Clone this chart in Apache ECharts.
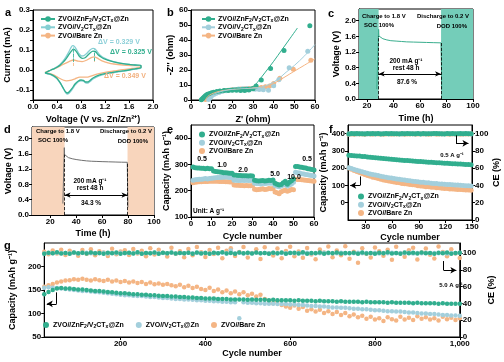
<!DOCTYPE html>
<html><head><meta charset="utf-8">
<script src="https://cdn.jsdelivr.net/npm/echarts@6/dist/echarts.min.js"></script>
<style>html,body{margin:0;padding:0;background:#fff}#c{width:504px;height:362px}</style>
</head><body><div id="c"></div>
<script>
// ---------- DATA ----------
// (a) CV loops [voltage, current]
const A_ZNF = [[0.2,-0.014],[0.25,-0.007],[0.3,0.0],[0.35,0.006],[0.4,0.014],[0.45,0.024],[0.5,0.038],[0.55,0.056],[0.6,0.078],[0.64,0.094],[0.67,0.104],[0.7,0.1],[0.74,0.084],[0.78,0.066],[0.82,0.058],[0.86,0.06],[0.9,0.07],[0.95,0.085],[1.0,0.094],[1.04,0.092],[1.08,0.078],[1.14,0.064],[1.2,0.054],[1.3,0.044],[1.4,0.037],[1.5,0.032],[1.6,0.028],[1.7,0.025],[1.8,0.022],
  [1.8,0.012],[1.7,0.006],[1.6,0.0],[1.5,-0.004],[1.4,-0.008],[1.3,-0.013],[1.2,-0.018],[1.1,-0.026],[1.0,-0.04],[0.95,-0.052],[0.91,-0.06],[0.88,-0.06],[0.84,-0.052],[0.8,-0.05],[0.75,-0.056],[0.7,-0.07],[0.65,-0.092],[0.6,-0.11],[0.57,-0.115],[0.54,-0.108],[0.5,-0.088],[0.45,-0.062],[0.4,-0.042],[0.35,-0.03],[0.3,-0.022],[0.25,-0.018],[0.2,-0.014]];
const A_V = [[0.2,-0.016],[0.25,-0.008],[0.3,0.0],[0.35,0.007],[0.4,0.016],[0.45,0.028],[0.5,0.044],[0.55,0.066],[0.6,0.092],[0.63,0.11],[0.66,0.122],[0.69,0.118],[0.73,0.1],[0.77,0.08],[0.81,0.07],[0.85,0.072],[0.9,0.084],[0.95,0.1],[1.0,0.108],[1.03,0.106],[1.07,0.092],[1.12,0.074],[1.2,0.058],[1.3,0.046],[1.4,0.038],[1.5,0.032],[1.6,0.028],[1.7,0.025],[1.8,0.022],
  [1.8,0.01],[1.7,0.004],[1.6,-0.001],[1.5,-0.006],[1.4,-0.01],[1.3,-0.015],[1.2,-0.021],[1.1,-0.03],[1.0,-0.045],[0.95,-0.058],[0.91,-0.066],[0.88,-0.065],[0.84,-0.056],[0.8,-0.054],[0.75,-0.06],[0.7,-0.076],[0.65,-0.098],[0.6,-0.116],[0.57,-0.12],[0.54,-0.112],[0.5,-0.09],[0.45,-0.064],[0.4,-0.044],[0.35,-0.032],[0.3,-0.024],[0.25,-0.02],[0.2,-0.016]];
const A_BARE = [[0.2,-0.012],[0.3,0.0],[0.4,0.012],[0.5,0.028],[0.6,0.042],[0.68,0.05],[0.75,0.044],[0.82,0.042],[0.9,0.05],[0.97,0.062],[1.02,0.066],[1.08,0.058],[1.15,0.046],[1.25,0.036],[1.35,0.03],[1.5,0.025],[1.65,0.022],[1.8,0.02],
  [1.8,0.014],[1.65,0.008],[1.5,0.002],[1.35,-0.005],[1.2,-0.012],[1.05,-0.022],[0.95,-0.032],[0.9,-0.036],[0.85,-0.036],[0.78,-0.036],[0.7,-0.044],[0.62,-0.052],[0.56,-0.054],[0.5,-0.05],[0.42,-0.038],[0.35,-0.026],[0.28,-0.018],[0.2,-0.012]];
const A_PEAKS_V = [0.67, 1.02];

// (b) Nyquist points and fits [Z', -Z'']
const B_ZNF_PTS = [[5,0.2],[5.5,0.8],[6,1.5],[6.5,2.2],[7,2.8],[7.5,3.3],[8,3.8],[9,4.3],[10,4.8],[11,5.2],[12.5,5.6],[14,6],[16,6.3],[18,6.4],[20,6.5],[22,6.5],[24,6.4],[26,6.4],[28,6.6],[30,7.5],[31.5,9.3],[34,13.3],[38.5,21],[45,33],[57.5,49.5]];
const B_ZNF_FIT = [[5,0],[6,1.8],[7,3],[8,3.9],[10,5.2],[12,6.1],[15,7],[18,7.6],[21,7.9],[24,8.1],[27,8.3],[29.5,8.7],[31,10],[33,13.3],[36,18.6],[40,25.8],[44,33.5],[48,41.2],[51.5,48]];
const B_V_PTS = [[8.5,0.3],[9,1.2],[9.5,2],[10,2.8],[11,3.6],[12,4.3],[13.5,5],[15,5.6],[17,6.2],[19,6.7],[21,7],[23,7.3],[25,7.5],[27,7.6],[29,7.4],[31,7.2],[33,7],[35,6.8],[37.5,6.5],[40,9.5],[42.5,13.5],[47.5,21.5],[56.5,32.5]];
const B_V_FIT = [[8.5,0],[9.5,2.2],[11,3.8],[13,5],[16,6.2],[20,7.1],[24,7.6],[28,7.9],[31,8],[34,8.6],[38,10.5],[42,13.8],[46,18.5],[50,23],[55,29.5],[60,37]];
const B_BARE_PTS = [[7,0.3],[7.5,1.2],[8,2],[9,3],[10,3.8],[11,4.5],[12.5,5.1],[14,5.6],[16,6.1],[18,6.5],[20,6.8],[22,7],[24,7.3],[26,7.5],[28,7.7],[30,7.8],[32,8],[34,8.3],[36,8.8],[38,9.4],[40,11],[43,14.5],[49.5,20.5],[58,26.5]];
const B_BARE_FIT = [[7,0],[8,2.2],[10,4],[13,5.6],[17,6.7],[22,7.4],[27,7.8],[32,8.3],[36,9.2],[40,11],[45,15],[50,19.2],[55,23.3],[60,27.5]];

// (c),(d) voltage vs time
const C_T = [27.4, 28.8, 29.0, 30, 32, 35, 38, 42, 46, 50, 55, 60, 65, 70, 75.8, 76.1, 76.4];
const C_V = [0.25, 1.78, 1.61, 1.57, 1.54, 1.51, 1.49, 1.48, 1.47, 1.46, 1.455, 1.45, 1.445, 1.44, 1.435, 1.0, 0.25];
const C_ZONES = [[14, 28.8], [75.9, 100]];
const C_ARROW_V = 0.64;
const D_T = [29.8, 30.9, 31.1, 32, 34, 37, 40, 44, 48, 52, 56, 60, 65, 70, 75, 79.4, 79.6, 79.9];
const D_V = [0.3, 1.76, 1.58, 1.54, 1.5, 1.47, 1.45, 1.43, 1.415, 1.405, 1.4, 1.395, 1.39, 1.385, 1.38, 1.378, 0.9, 0.2];
const D_ZONES = [[6, 31.1], [79.6, 100]];
const D_ARROW_V = 0.52;

// (e) rate
const E_CYC = [1,2,3,4,5,6,7,8,9,10,11,12,13,14,15,16,17,18,19,20,21,22,23,24,25,26,27,28,29,30,31,32,33,34,35,36,37,38,39,40,41,42,43,44,45,46,47,48,49,50,51,52,53,54,55,56,57,58,59,60];
const E_ZNF = [290,287,286,286,285,285,284,285,284,284, 275,273,272,271,270,268,268,267,266,266, 260,259,258,258,257,257,257,256,257,256, 240,238,237,238,239,237,238,240,239,241, 228,225,222,224,230,236,225,232,238,245, 292,292,290,289,287,286,284,283,281,279];
const E_V   = [240,242,243,244,244,245,246,245,246,247, 248,249,250,250,251,251,252,251,250,250, 240,240,239,239,240,239,240,239,239,240, 228,227,227,226,228,227,228,229,228,229, 220,217,215,218,222,224,218,222,226,232, 270,268,267,265,264,262,261,259,258,256];
const E_BARE= [230,232,233,234,234,235,235,235,236,236, 236,236,236,235,235,235,234,234,233,233, 222,221,221,220,220,219,220,219,219,220, 206,204,205,206,207,205,206,208,207,208, 195,192,188,196,200,203,198,201,205,204, 244,243,243,242,241,240,239,238,237,236];
const E_RATES = ['0.5','1.0','2.0','5.0','10.0','0.5'];

// (f) 0.5 A/g cycling
const F_CYC = [11,14,17,20,23,26,29,32,35,38,41,44,47,50,53,56,59,62,65,68,71,74,77,80,83,86,89,92,95,98,101,104,107,110,113,116,119,122,125,128,131,134,137,140,143,146,149];
const F_CAP_ZNF = [275,274,272,271,270,268,267,265,264,262,261,259,258,256,255,253,252,250,249,248,246,245,244,243,241,240,239,238,237,236,235,234,233,232,231,230,229,228,227,226,225,224,224,223,222,221,220];
const F_CAP_V = [203,198,193,188,183,179,175,171,167,163,160,157,153,151,148,145,143,140,138,136,133,131,129,127,125,123,121,119,118,116,115,113,112,111,109,108,107,106,105,104,103,102,101,100,99,98,97];
const F_CAP_BARE = [201,194,187,181,175,169,163,158,153,148,144,140,136,132,129,126,123,120,117,115,112,110,108,106,104,102,99,97,95,93,92,90,89,87,86,84,83,82,80,79,78,77,76,75,74,73,72];
const F_CE_ZNF = [99.7,100.1,99.8,100.2,99.9,100.0,99.6,100.3,99.8,100.1,99.9,100.2,99.7,100.0,100.1,99.8,100.2,99.9,100.0,99.7,100.1,99.9,100.3,99.8,100.0,99.9,100.1,99.7,100.2,99.9,100.0,99.8,100.1,100.2,99.9,100.0,99.7,100.1,99.9,100.2,99.8,100.0,100.1,99.9,100.2,99.8,100.0];
const F_CE_V = [99.5,99.9,100.1,99.7,100.0,99.8,100.2,99.6,99.9,100.0,99.7,100.1,99.8,99.9,100.2,99.6,100.0,99.8,100.1,99.9,99.7,100.0,99.8,100.2,99.9,99.6,100.1,99.8,100.0,99.7,100.2,99.9,99.8,100.0,100.1,99.7,99.9,100.2,99.8,100.0,99.6,100.1,99.9,99.8,100.0,100.2,99.7];
const F_CE_BARE = [99.2,99.6,99.4,99.8,99.5,99.7,99.3,99.9,99.6,99.4,99.8,99.5,99.7,99.3,99.6,99.9,99.4,99.7,99.5,99.8,99.6,99.3,99.7,99.5,99.9,99.4,99.6,99.8,99.5,99.7,99.3,99.6,99.9,99.4,99.7,99.5,99.8,99.6,99.4,99.7,99.5,99.8,99.3,99.6,99.7,99.5,99.8];

// (g) 5.0 A/g long cycling
const G_CYC = [20,30,40,50,60,70,80,90,100,110,120,130,140,150,160,170,180,190,200,210,220,230,240,250,260,270,280,290,300,310,320,330,340,350,360,370,380,390,400,410,420,430,440,450,460,470,480,490,500,510,520,530,540,550,560,570,580,590,600,610,620,630,640,650,660,670,680,690,700,710,720,730,740,750,760,770,780,790,800,810,820,830,840,850,860,870,880,890,900,910,920,930,940,950,960,970,980,990,1000];
const G_CAP_ZNF = [141,146,150,153,154,153,153,152,151,151, 150,149,148,148,147,146,145,144,143,143, 142,141,141,140,140,139,139,138,137,137, 136,136,135,135,134,134,133,133,132,132, 132,131,131,131,130,130,130,130,129,130, 129,129,129,128,129,128,128,128,128,127, 128,127,127,127,126,127,126,126,126,125, 126,125,125,125,125,124,125,124,124,124, 124,123,124,123,123,123,123,122,123,122, 122,122,122,121,122,121,121,121,121];
const G_CAP_V = [155,156,155,154,153,152,151,150,149,148, 148,147,146,145,144,143,142,141,140,139, 139,138,137,137,136,135,135,134,133,133, 132,131,131,130,130,129,128,128,127,127, 126,126,125,125,124,124,90,124,123,123, 122,122,121,121,121,120,120,120,119,119, 118,118,117,116,116,115,115,114,113,113, 112,112,111,110,110,109,109,108,107,107, 106,105,105,104,104,103,102,102,101,100, 100,99,99,98,97,97,96,96,95];
const G_CAP_BARE = [157,160,163,166,168,170,171,173,172,174, 172,170,173,171,169,172,168,170,167,169, 166,168,165,167,163,166,162,164,161,163, 160,158,161,156,159,154,157,152,150,155, 148,151,145,149,143,147,141,145,139,142, 136,140,131,127,122,126,118,115,112,117, 110,114,106,109,104,108,101,105,99,103, 97,101,94,98,92,95,89,93,87,90, 84,92,88,85,93,87,91,86,94,89, 92,87,90,85,93,88,91,86,90];
const G_CE_ZNF = [99.2,100.4,99.8,100.9,99.5,100.2,99.1,100.6,99.9,100.3, 99.4,100.8,99.7,100.1,99.3,100.5,99.9,100.7,99.2,100.0, 100.4,99.6,100.9,99.3,100.2,99.8,100.6,99.1,100.3,99.7, 100.8,99.4,100.1,99.9,100.5,99.2,100.7,99.6,100.0,99.3, 100.4,99.8,100.9,99.5,100.2,99.1,100.6,99.9,100.3,99.4, 100.8,99.7,100.1,99.3,100.5,99.9,100.7,99.2,100.0,100.4, 99.6,100.9,99.3,100.2,99.8,100.6,99.1,100.3,99.7,100.8, 99.4,100.1,99.9,100.5,99.2,100.7,99.6,100.0,99.3,100.4, 99.8,100.9,99.5,100.2,99.1,100.6,99.9,100.3,99.4,100.8, 99.7,100.1,99.3,100.5,99.9,100.7,99.2,100.0,100.4];
const G_CE_V = [99.6,100.2,99.9,100.5,99.7,100.1,99.8,100.4,99.5,100.0, 100.3,99.7,100.1,99.9,100.4,99.6,100.2,99.8,100.5,99.7, 100.0,99.9,100.3,99.6,100.1,99.8,100.4,99.7,100.2,99.9, 100.5,99.6,100.0,99.8,100.3,99.7,100.1,99.9,100.4,99.6, 100.2,99.8,100.5,99.7,103.0,99.9,100.3,99.6,100.1,99.8, 100.4,99.7,100.2,99.9,100.5,99.6,100.0,99.8,100.3,99.7, 100.1,99.9,100.4,99.6,100.2,99.8,100.5,99.7,100.0,99.9, 100.3,99.6,100.1,99.8,100.4,99.7,100.2,99.9,100.5,99.6, 100.0,99.8,100.3,99.7,100.1,99.9,100.4,99.6,100.2,99.8, 100.5,99.7,100.0,99.9,100.3,99.6,100.1,99.8,100.4];
const G_CE_BARE = [101.5,98.7,103.2,99.4,104.1,97.6,102.8,100.3,96.9,103.7, 99.1,104.6,97.3,102.2,100.8,96.4,105.1,98.5,101.9,103.4, 97.8,104.9,99.6,102.7,96.1,105.6,98.2,103.9,100.5,95.8, 106.2,99.3,102.1,94.9,104.8,97.5,107.1,100.9,95.4,103.6, 98.8,106.4,93.7,102.9,105.8,96.6,101.2,107.3,94.8,100.1, 104.5,92.9,106.9,99.7,97.1,105.3,93.8,102.4,107.6,96.2, 101.8,94.3,106.1,98.4,92.6,104.2,100.7,107.8,95.1,103.1, 97.3,108.2,93.1,101.6,88.4,105.7,99.2,94.6,106.6,102.3, 96.8,104.1,91.9,107.4,99.8,95.7,103.5,106.3,92.4,100.6, 105.4,97.9,93.4,107.9,101.3,96.3,104.7,99.5,94.1];

// ---------- STYLE ----------
const FONT = '"Liberation Sans", Arial, sans-serif';
const COL = {ZnF:'#31AE8E', V:'#A3CFDC', Bare:'#F4B584'};
const COL_A_V = '#86CFD3';
const LEG = {
  ZnF:'{n|ZVO//ZnF}{s|2}{n|/V}{s|2}{n|CT}{s|x}{n|@Zn}',
  V:'{n|ZVO//V}{s|2}{n|CT}{s|x}{n|@Zn}',
  Bare:'{n|ZVO//Bare Zn}'
};
const zip = (xs, ys) => xs.map((x, i) => [x, ys[i]]);
const clean = o => { Object.keys(o).forEach(k => { if (o[k] === undefined) delete o[k]; else if (o[k] && typeof o[k] === 'object' && !Array.isArray(o[k])) clean(o[k]); }); return o; };

function axis(o) {
  return clean({
    type:'value', gridIndex:o.grid, min:o.min, max:o.max, interval:o.interval,
    position:o.pos, name:o.name, nameLocation:'middle', nameGap:o.gap,
    nameTextStyle:{color:'#000', fontSize:9, fontWeight:'bold', fontFamily:FONT},
    axisLine:{show:true, onZero:false, lineStyle:{color:'#000', width:1}},
    axisTick:{show:true, length:3, lineStyle:{color:'#000', width:1}},
    axisLabel:{color:'#000', fontSize:8, fontWeight:'bold', fontFamily:FONT, margin:3,
      formatter:o.fmt, showMinLabel:o.showMin, showMaxLabel:o.showMax},
    splitLine:{show:false}
  });
}
const f1 = v => v.toFixed(1);
const legRich = {
  n:{fontSize:7, fontWeight:'bold', fontFamily:FONT, color:'#000', lineHeight:9},
  s:{fontSize:5, fontWeight:'bold', fontFamily:FONT, color:'#000', lineHeight:9, verticalAlign:'bottom', padding:[3,0,0,0]}
};
function legend(o) {
  return {
    orient:o.orient || 'vertical', left:o.left, top:o.top, itemGap:o.gap, itemWidth:o.iw, itemHeight:o.ih,
    data:o.data, formatter:n => LEG[n.split('|')[1]], textStyle:{rich:legRich, padding:[0,0,0,-2]},
    selectedMode:false
  };
}
function txt(x, y, text, o) {
  o = o || {};
  return {type:'text', x:x, y:y, z:50, style:{text:text, fill:o.color || '#000',
    font:'bold ' + (o.size || 7) + 'px ' + FONT, align:o.align || 'left', verticalAlign:'middle'}};
}
const dash = {type:'dashed', color:'#000', width:0.8};
function vline(x, y0, y1) { return [{coord:[x, y0]}, {coord:[x, y1]}]; }

const grids = [
  {left:33, top:10, width:120, height:90},
  {left:191, top:10, width:124, height:90},
  {left:359, top:9, width:114, height:90},
  {left:32, top:127, width:122, height:88},
  {left:191, top:125, width:123, height:92},
  {left:348, top:125, width:124, height:95},
  {left:32, top:243, width:441, height:94}
].map(g => Object.assign({show:true, borderColor:'#000', borderWidth:1, backgroundColor:'transparent', containLabel:false}, g));

const xAxes = [
  axis({grid:0, min:0, max:2, interval:0.4, fmt:f1, name:'Voltage (V vs. Zn/Zn\u00B2\u207A)', gap:15}),
  axis({grid:1, min:0, max:60, interval:10, name:"Z' (ohm)", gap:15}),
  axis({grid:2, min:14, max:100, showMin:false, name:'Time (h)', gap:15}),
  axis({grid:3, min:6, max:100, showMin:false, name:'Time (h)', gap:14}),
  axis({grid:4, min:0, max:60, interval:10, name:'Cycle number', gap:15}),
  axis({grid:5, min:10, max:150, showMin:false, name:'Cycle number', gap:13}),
  axis({grid:6, min:20, max:1000, showMin:false, name:'Cycle number', gap:11})
];
const aFmt = v => { const r = Math.round(v * 10); return Math.abs(v * 10 - r) < 1e-6 ? (r / 10).toFixed(1) : ''; };
const yAxes = [
  axis({grid:0, min:-0.15, max:0.3, interval:0.05, fmt:aFmt, name:'Current (mA)', gap:20}),
  axis({grid:1, min:0, max:60, interval:10, name:"-Z'' (ohm)", gap:14}),
  axis({grid:2, min:0, max:2.3, interval:0.4, fmt:f1, showMax:false, name:'Voltage (V)', gap:17}),
  axis({grid:3, min:0, max:2.3, interval:0.4, fmt:f1, showMax:false, name:'Voltage (V)', gap:19}),
  axis({grid:4, min:100, max:450, interval:100, showMax:false, name:'Capacity (mAh g\u207B\u00B9)', gap:17}),
  axis({grid:5, min:-100, max:450, interval:100, pos:'left', showMin:false, showMax:false, name:'Capacity (mAh g\u207B\u00B9)', gap:19}),
  axis({grid:5, min:0, max:110, interval:20, pos:'right', showMax:false, name:'CE (%)', gap:14}),
  axis({grid:6, min:50, max:250, interval:50, pos:'left', showMax:false, name:'Capacity (mAh g\u207B\u00B9)', gap:19}),
  axis({grid:6, min:0, max:112, interval:20, pos:'right', showMax:false, name:'CE (%)', gap:18})
];

const series = [];
// (a)
const aPeak = (col, y0s, y1s) => ({silent:true, symbol:'none', label:{show:false}, lineStyle:{type:'dashed', color:col, width:0.8},
  data:A_PEAKS_V.map((v, i) => vline(v, y0s[i], y1s[i]))});
[['Bare', A_BARE, COL.Bare, [0.02,0.04],[0.05,0.066]],
 ['V', A_V, COL_A_V, [0.05,0.05],[0.125,0.11]],
 ['ZnF', A_ZNF, COL.ZnF, [0.04,0.045],[0.105,0.094]]].forEach(([k, d, c, y0, y1]) => {
  series.push({type:'line', name:'a|' + k, xAxisIndex:0, yAxisIndex:0, data:d, smooth:0.3, symbol:'none',
    lineStyle:{color:c, width:1.3}, itemStyle:{color:c}, markLine:aPeak(c, y0, y1)});
});
// (b)
[['Bare', B_BARE_PTS, B_BARE_FIT], ['V', B_V_PTS, B_V_FIT], ['ZnF', B_ZNF_PTS, B_ZNF_FIT]].forEach(([k, p, f]) => {
  series.push({type:'line', name:'b|' + k, xAxisIndex:1, yAxisIndex:1, data:f, smooth:0.35, symbol:'circle', symbolSize:5, showSymbol:false,
    lineStyle:{color:COL[k], width:1}, itemStyle:{color:COL[k]}});
});
[['Bare', B_BARE_PTS], ['V', B_V_PTS], ['ZnF', B_ZNF_PTS]].forEach(([k, p]) => {
  series.push({type:'scatter', name:'b|' + k, xAxisIndex:1, yAxisIndex:1, data:p, symbolSize:5, itemStyle:{color:COL[k], opacity:1}});
});
// (c) & (d)
function restSeries(xi, yi, t, v, zones, arrowV, lineCol, zoneCol) {
  const restStart = zones[0][1], restEnd = zones[1][0];
  return {type:'line', xAxisIndex:xi, yAxisIndex:yi, data:zip(t, v), symbol:'none', z:3,
    lineStyle:{color:lineCol, width:1}, itemStyle:{color:lineCol},
    markArea:{silent:true, itemStyle:{color:zoneCol}, data:zones.map(z => [{xAxis:z[0]}, {xAxis:z[1]}])},
    markLine:{silent:true, symbol:'none', label:{show:false}, lineStyle:dash, data:[
      vline(restStart, 0, v[2]), vline(restEnd, 0, v[v.length - 3]),
      [{coord:[restStart, arrowV], symbol:'arrow', symbolSize:[4,6]}, {coord:[restEnd, arrowV], symbol:'arrow', symbolSize:[4,6]}]
    ]}};
}
const cS = restSeries(2, 2, C_T, C_V, C_ZONES, C_ARROW_V, '#3AAE8E', '#74CDB9');
const dS = restSeries(3, 3, D_T, D_V, D_ZONES, D_ARROW_V, '#707070', '#F8D5BC');
[cS, dS].forEach(s => { s.markLine.data[2].forEach(p => p.lineStyle = {type:'solid', width:1, color:'#000'}); series.push(s); });
// (e)
[['Bare', E_BARE], ['V', E_V], ['ZnF', E_ZNF]].forEach(([k, d]) => {
  series.push({type:'scatter', name:'e|' + k, xAxisIndex:4, yAxisIndex:4, data:zip(E_CYC, d), symbolSize:5, itemStyle:{color:COL[k], opacity:1}});
});
// (f)
const arrowLine = (pts) => ({silent:true, symbol:'none', label:{show:false}, lineStyle:{type:'solid', color:'#000', width:1}, data:[
  [{coord:pts[0]}, {coord:pts[1]}],
  [{coord:pts[1]}, {coord:pts[2], symbol:'arrow', symbolSize:[5,6]}]
]});
const F_ARROW_CAP = [[23.5,152],[23.5,100],[12.5,100]];
const F_ARROW_CE = [[132,98],[132,88.8],[146,88.8]];
[['Bare', F_CAP_BARE, F_CE_BARE], ['V', F_CAP_V, F_CE_V], ['ZnF', F_CAP_ZNF, F_CE_ZNF]].forEach(([k, cap, ce]) => {
  const s1 = {type:'scatter', name:'f|' + k, xAxisIndex:5, yAxisIndex:5, data:zip(F_CYC, cap), symbolSize:5, itemStyle:{color:COL[k], opacity:1}};
  const s2 = {type:'scatter', name:'f|' + k, xAxisIndex:5, yAxisIndex:6, data:zip(F_CYC, ce), symbolSize:5, itemStyle:{color:COL[k], opacity:1}};
  if (k === 'ZnF') { s1.markLine = arrowLine(F_ARROW_CAP); s2.markLine = arrowLine(F_ARROW_CE); }
  series.push(s1, s2);
});
// (g)
const G_ARROW_CAP = [[49,145],[49,120.5],[26,120.5]];
const G_ARROW_CE = [[962,90.5],[962,79.5],[992,79.5]];
[['Bare', G_CAP_BARE, G_CE_BARE], ['V', G_CAP_V, G_CE_V], ['ZnF', G_CAP_ZNF, G_CE_ZNF]].forEach(([k, cap, ce]) => {
  const s1 = {type:'scatter', name:'g|' + k, xAxisIndex:6, yAxisIndex:7, data:zip(G_CYC, cap), symbolSize:4.5, itemStyle:{color:COL[k], opacity:1}};
  const s2 = {type:'scatter', name:'g|' + k, xAxisIndex:6, yAxisIndex:8, data:zip(G_CYC, ce), symbolSize:4.5, itemStyle:{color:COL[k], opacity:1}};
  if (k === 'ZnF') { s1.markLine = arrowLine(G_ARROW_CAP); s2.markLine = arrowLine(G_ARROW_CE); }
  series.push(s1, s2);
});

const names = p => ['ZnF', 'V', 'Bare'].map(k => p + '|' + k);
const legends = [
  legend({left:35, top:10.5, gap:0.3, iw:14, ih:7, data:names('a')}),
  legend({left:196, top:10.5, gap:0.3, iw:13, ih:7, data:names('b')}),
  legend({left:194, top:126, gap:0.3, iw:8, ih:6, data:names('e')}),
  legend({left:353, top:188, gap:0.3, iw:8, ih:6, data:names('f')}),
  legend({orient:'horizontal', left:38, top:316.5, gap:12, iw:8, ih:6, data:names('g')})
];

const SUP = '\u207B\u00B9';
const graphic = [
  txt(5, 13, 'a', {size:11}), txt(167, 13, 'b', {size:11}), txt(328, 14, 'c', {size:11}),
  txt(4, 130, 'd', {size:11}), txt(167, 130, 'e', {size:11}), txt(329, 130, 'f', {size:11}), txt(4, 246, 'g', {size:11}),
  txt(98, 42, '\u0394V = 0.329 V', {color:'#8CCFD8'}),
  txt(110, 52, '\u0394V = 0.325 V', {color:'#31AE8E'}),
  txt(104, 76, '\u0394V = 0.349 V', {color:'#F2B07E'}),
  txt(362, 16, 'Charge to 1.8 V', {size:6}), txt(364, 25, 'SOC 100%', {size:6}),
  txt(469, 16, 'Discharge to 0.2 V', {size:6, align:'right'}), txt(467, 26, 'DOD 100%', {size:6, align:'right'}),
  txt(406, 61, '200 mA g' + SUP, {size:6.5, align:'center'}), txt(406, 68.5, 'rest 48 h', {size:6.5, align:'center'}),
  txt(407, 82, '87.6 %', {size:6.5, align:'center'}),
  txt(36, 131, 'Charge to 1.8 V', {size:6}), txt(38, 140, 'SOC 100%', {size:6}),
  txt(152, 131, 'Discharge to 0.2 V', {size:6, align:'right'}), txt(148, 141, 'DOD 100%', {size:6, align:'right'}),
  txt(90, 181, '200 mA g' + SUP, {size:6.5, align:'center'}), txt(90, 188.5, 'rest 48 h', {size:6.5, align:'center'}),
  txt(91, 203, '34.3 %', {size:6.5, align:'center'}),
  txt(202, 159, E_RATES[0], {size:7, align:'center'}), txt(222, 165, E_RATES[1], {size:7, align:'center'}),
  txt(243, 170, E_RATES[2], {size:7, align:'center'}), txt(275, 174, E_RATES[3], {size:7, align:'center'}),
  txt(294, 177, E_RATES[4], {size:7, align:'center'}), txt(307, 159, E_RATES[5], {size:7, align:'center'}),
  txt(193, 211, 'Unit: A g' + SUP, {size:6.5}),
  txt(452, 155, '0.5 A g' + SUP, {size:6, align:'center'}),
  txt(451, 285, '5.0 A g' + SUP, {size:6, align:'center'})
];

const chart = echarts.init(document.getElementById('c'), null, {renderer:'canvas'});
chart.setOption({
  animation:false, backgroundColor:'#fff',
  textStyle:{fontFamily:FONT},
  grid:grids, xAxis:xAxes, yAxis:yAxes, legend:legends, series:series, graphic:graphic
});
</script></body></html>
